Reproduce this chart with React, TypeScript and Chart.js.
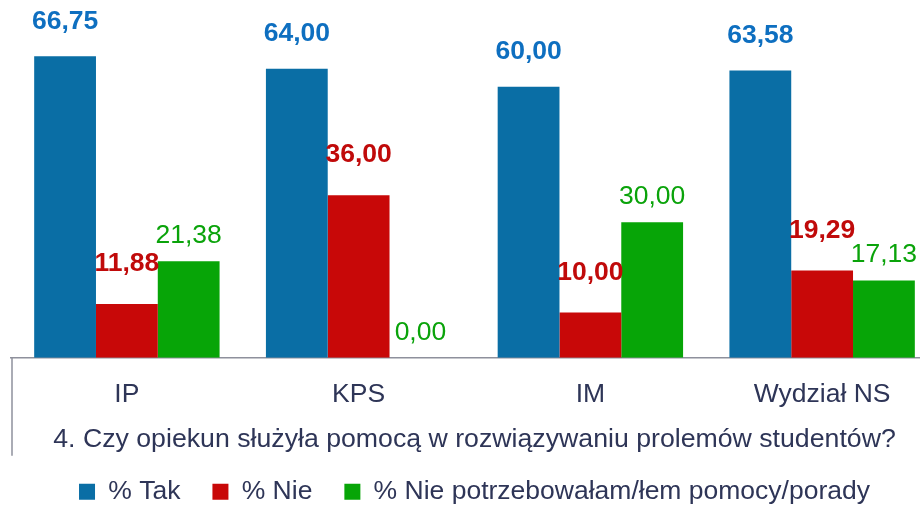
import React, { useEffect, useRef } from "react";
import { Chart, registerables } from "chart.js";

Chart.register(...registerables);

const categories = ["IP", "KPS", "IM", "Wydział NS"];
const seriesNames = ["% Tak", "% Nie", "% Nie potrzebowałam/łem pomocy/porady"];
const takValues = [66.75, 64.0, 60.0, 63.58];
const nieValues = [11.88, 36.0, 10.0, 19.29];
const niePotrzValues = [21.38, 0.0, 30.0, 17.13];
const titleText = "4. Czy opiekun służyła pomocą w rozwiązywaniu prolemów studentów?";

const FONT = "'Liberation Sans', Arial, sans-serif";
const TEXT = "#2E3557";
const FS = 26.5;

const labelStyles = [
  { color: "#0E6FC0", weight: "bold", offset: 35 },
  { color: "#C00A0A", weight: "bold", offset: 40 },
  { color: "#0AA30A", weight: "normal", offset: 25.5 },
];

const valueLabels = {
  id: "valueLabels",
  afterDatasetsDraw(chart: any) {
    const ctx = chart.ctx;
    ctx.save();
    chart.data.datasets.forEach((ds: any, i: number) => {
      const meta = chart.getDatasetMeta(i);
      const st = labelStyles[i];
      ctx.font = `${st.weight} ${FS}px ${FONT}`;
      ctx.fillStyle = st.color;
      ctx.textAlign = "center";
      ctx.textBaseline = "middle";
      meta.data.forEach((bar: any, j: number) => {
        const v = ds.data[j] as number;
        const txt = v.toFixed(2).replace(".", ",");
        ctx.fillText(txt, bar.x, bar.y - st.offset);
      });
    });
    ctx.restore();
  },
};

const frameLine = {
  id: "frameLine",
  afterDraw(chart: any) {
    const { ctx, chartArea } = chart;
    ctx.save();
    ctx.strokeStyle = "#8E909C";
    ctx.lineWidth = 1.5;
    ctx.beginPath();
    ctx.moveTo(chartArea.left + 1, chartArea.bottom);
    ctx.lineTo(chartArea.left + 1, chartArea.bottom + 98);
    ctx.stroke();
    ctx.restore();
  },
};

export default function App() {
  const ref = useRef<HTMLCanvasElement>(null);
  useEffect(() => {
    document.body.style.margin = "0";
    document.body.style.overflow = "hidden";
    const chart = new Chart(ref.current!, {
      type: "bar",
      data: {
        labels: categories,
        datasets: [
          { label: seriesNames[0], data: takValues, backgroundColor: "#0A6EA5" },
          { label: seriesNames[1], data: nieValues, backgroundColor: "#C80808" },
          { label: seriesNames[2], data: niePotrzValues, backgroundColor: "#07A507" },
        ],
      },
      options: {
        responsive: false,
        animation: false,
        maintainAspectRatio: false,
        datasets: { bar: { categoryPercentage: 0.8, barPercentage: 1.0 } },
        layout: { padding: { left: 11, right: 2, top: 0, bottom: 0 } },
        scales: {
          x: {
            grid: { display: false, drawTicks: false },
            border: { display: true, color: "#8E909C", width: 1.5 },
            ticks: {
              color: TEXT,
              font: { family: FONT, size: FS },
              padding: 21,
            },
          },
          y: {
            display: false,
            min: 0,
            max: 79.2,
          },
        },
        plugins: {
          tooltip: { enabled: false },
          title: {
            display: true,
            text: titleText,
            position: "bottom",
            weight: 500,
            color: TEXT,
            font: { family: FONT, size: 26.7, weight: "normal" },
            padding: { top: -8.2, bottom: -8.9 },
          },
          legend: {
            position: "bottom",
            labels: {
              color: TEXT,
              font: { family: FONT, size: FS },
              boxWidth: 16,
              boxHeight: 16,
              padding: 32,
            },
          },
        },
      },
      plugins: [valueLabels, frameLine],
    });
    return () => chart.destroy();
  }, []);
  return (
    <div style={{ position: "fixed", left: 0, top: 0, width: 920, height: 508, overflow: "hidden", background: "#fff" }}>
      <canvas ref={ref} width={940} height={515} style={{ width: 940, height: 515, display: "block" }} />
    </div>
  );
}
